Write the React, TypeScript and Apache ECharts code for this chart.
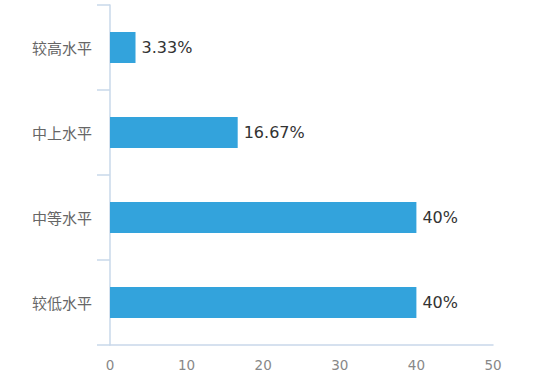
import React, { useEffect, useRef } from "react";
import * as echarts from "echarts";

const categories = ["较低水平", "中等水平", "中上水平", "较高水平"];
const values = [40, 40, 16.67, 3.33];
const labels = ["40%", "40%", "16.67%", "3.33%"];

export default function App() {
  const ref = useRef<HTMLDivElement>(null);
  useEffect(() => {
    if (!ref.current) return;
    const chart = echarts.init(ref.current, undefined, { renderer: "svg" });
    chart.setOption({
      animation: false,
      grid: { left: 110, right: 64, top: 5, bottom: 37, containLabel: false },
      xAxis: {
        type: "value",
        min: 0,
        max: 50,
        interval: 10,
        axisLine: { show: true, lineStyle: { color: "#c9d8ea", width: 1.5 } },
        axisTick: { show: false },
        splitLine: { show: false },
        axisLabel: {
          color: "#888",
          fontSize: 13.5,
          margin: 13,
          fontFamily: "DejaVu Sans",
        },
      },
      yAxis: {
        type: "category",
        data: categories,
        axisLine: { show: true, lineStyle: { color: "#c9d8ea", width: 1.5 } },
        axisTick: { show: true, length: 13, lineStyle: { color: "#c9d8ea", width: 1.5 } },
        axisLabel: {
          color: "#666",
          fontSize: 15,
          margin: 18,
          fontFamily: "Noto Sans CJK SC",
        },
      },
      series: [
        {
          type: "bar",
          data: values,
          barWidth: 31,
          itemStyle: { color: "#33a3dc" },
          label: {
            show: true,
            position: "right",
            distance: 6,
            color: "#333",
            fontSize: 16,
            fontFamily: "DejaVu Sans",
            formatter: (p: any) => labels[p.dataIndex],
          },
        },
      ],
    });
    return () => chart.dispose();
  }, []);
  return <div ref={ref} style={{ width: 557, height: 382, position: "absolute", left: 0, top: 0 }} />;
}
